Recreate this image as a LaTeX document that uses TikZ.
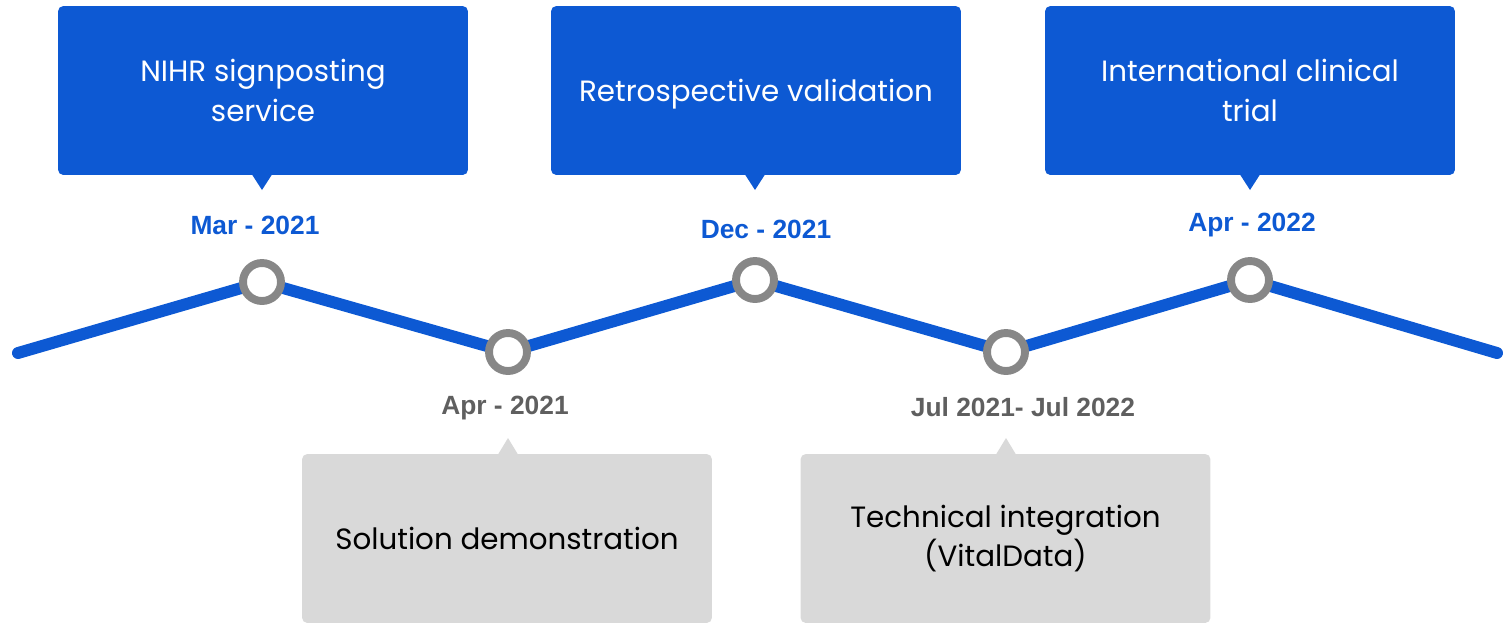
\documentclass[tikz,border=0pt]{standalone}
\usepackage{fontspec}
\setmainfont{Poppins}
\newfontfamily\datefont{Liberation Sans}
\usepackage{tikz}
\usetikzlibrary{positioning}
\definecolor{tlblue}{HTML}{0D59D3}
\definecolor{tlgray}{HTML}{D9D9D9}
\definecolor{ringgray}{HTML}{878787}
\definecolor{dategray}{HTML}{5F5F5F}
\tikzset{
	upbox/.style={fill=tlblue, text=white, rounded corners=3pt, minimum width=8.2cm, minimum height=3.38cm, align=center, font=\fontsize{16.7}{22.7}\selectfont},
	downbox/.style={upbox, fill=tlgray, text=black},
	ring/.style={circle, draw=ringgray, fill=white, line width=4.5pt, minimum size=0.76cm, inner sep=0pt},
	datelbl/.style={font=\datefont\bfseries\fontsize{15}{18}\selectfont}
}

\begin{document}
\begin{tikzpicture}[x=0.02cm,y=-0.02cm]
	\useasboundingbox (0,0) rectangle (1505,623);
	\coordinate (s) at (18,353);
	\coordinate (p1) at (262,282);
	\coordinate (p2) at (508,352);
	\coordinate (p3) at (755,280);
	\coordinate (p4) at (1006,352);
	\coordinate (p5) at (1250,280);
	\coordinate (e) at (1497,353);
	\draw[tlblue, line width=6.8pt, line cap=round, line join=round] (s) -- (p1) -- (p2) -- (p3) -- (p4) -- (p5) -- (e);
	\foreach \p in {p1,p2,p3,p4,p5} \node[ring] (r\p) at (\p) {};
	\node[upbox] (b1) at (263,90.5) {NIHR signposting\\service};
	\node[upbox, text depth=0pt] (b2) at (756,90.5) {Retrospective validation};
	\node[upbox] (b3) at (1250,90.5) {International clinical\\trial};
	\node[downbox] (g1) at (507,538.5) {Solution demonstration};
	\node[downbox] (g2) at (1005.5,538.5) {Technical integration\\(VitalData)};
	\foreach \b/\x in {b1/262,b2/755,b3/1250} \fill[tlblue] (\x-10,174.5) -- (\x+10,174.5) -- (\x,190) -- cycle;
	\foreach \g/\x in {g1/508,g2/1006} \fill[tlgray] (\x-10,454.5) -- (\x+10,454.5) -- (\x,438) -- cycle;
	\node[datelbl, text=tlblue] (d1) at (255,225) {Mar - 2021};
	\node[datelbl, text=tlblue] (d3) at (766,229) {Dec - 2021};
	\node[datelbl, text=tlblue] (d5) at (1252,225) {Apr - 2022};
	\node[datelbl, text=dategray] (d2) at (505,408) {Apr - 2021};
	\node[datelbl, text=dategray] (d4) at (1023,407) {Jul 2021- Jul 2022};
\end{tikzpicture}
\end{document}
